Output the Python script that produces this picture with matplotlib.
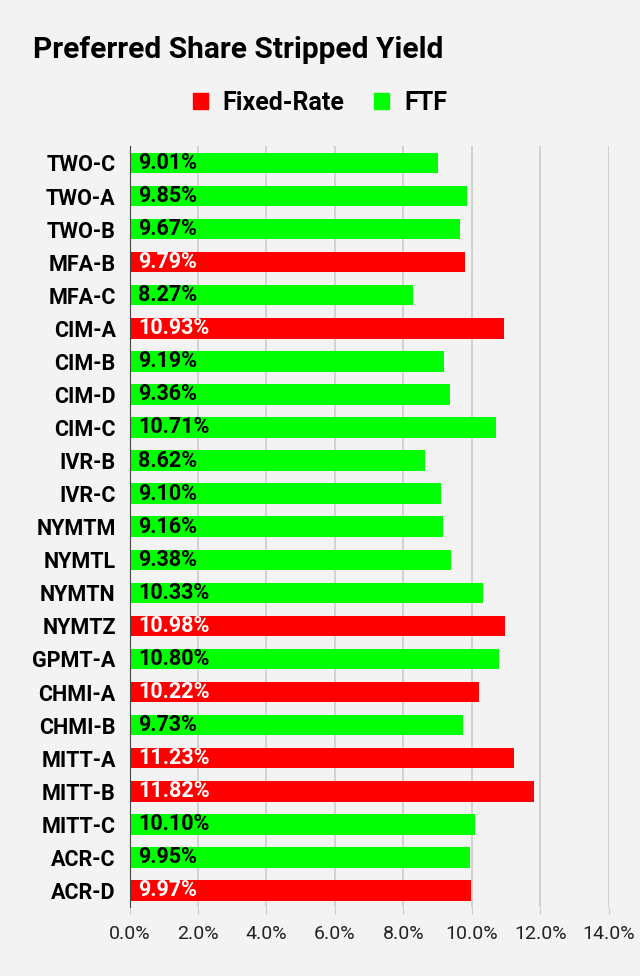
import matplotlib.pyplot as plt
from matplotlib.patches import Patch
from matplotlib.ticker import FuncFormatter

plt.rcParams['font.family'] = ['Roboto', 'DejaVu Sans']

# --- Data ---
tickers = ['TWO-C', 'TWO-A', 'TWO-B', 'MFA-B', 'MFA-C', 'CIM-A', 'CIM-B', 'CIM-D',
           'CIM-C', 'IVR-B', 'IVR-C', 'NYMTM', 'NYMTL', 'NYMTN', 'NYMTZ', 'GPMT-A',
           'CHMI-A', 'CHMI-B', 'MITT-A', 'MITT-B', 'MITT-C', 'ACR-C', 'ACR-D']
yields = [9.01, 9.85, 9.67, 9.79, 8.27, 10.93, 9.19, 9.36, 10.71, 8.62, 9.10, 9.16,
          9.38, 10.33, 10.98, 10.80, 10.22, 9.73, 11.23, 11.82, 10.10, 9.95, 9.97]
kinds = ['FTF', 'FTF', 'FTF', 'Fixed-Rate', 'FTF', 'Fixed-Rate', 'FTF', 'FTF',
         'FTF', 'FTF', 'FTF', 'FTF', 'FTF', 'FTF', 'Fixed-Rate', 'FTF',
         'Fixed-Rate', 'FTF', 'Fixed-Rate', 'Fixed-Rate', 'FTF', 'FTF', 'Fixed-Rate']
x_ticks = [0, 2, 4, 6, 8, 10, 12, 14]

COLORS = {'Fixed-Rate': '#ff0000', 'FTF': '#00ff00'}
TEXT_COLORS = {'Fixed-Rate': 'white', 'FTF': 'black'}
BG = '#f3f3f3'

fig = plt.figure(figsize=(6.4, 9.76), dpi=100, facecolor=BG)
ax = fig.add_axes([0.2025, 0.0707, 0.7485, 0.7793], facecolor=BG)

ypos = list(range(len(tickers)))
ax.barh(ypos, yields, height=0.62, color=[COLORS[k] for k in kinds], zorder=3)

# value labels inside the left end of each bar
for y, v, k in zip(ypos, yields, kinds):
    ax.text(0.25, y, f'{v:.2f}%', va='center', ha='left', fontsize=15.5,
            fontweight='bold', color=TEXT_COLORS[k], zorder=4)

ax.set_xlim(0, 14)
ax.set_ylim(len(tickers) - 0.5, -0.5)
ax.set_xticks(x_ticks)
ax.xaxis.set_major_formatter(FuncFormatter(lambda v, p: f'{v:.1f}%'))
ax.set_yticks(ypos)
ax.set_yticklabels(tickers, fontsize=15.5, fontweight='bold')
ax.tick_params(axis='y', length=0, pad=10)
ax.tick_params(axis='x', length=5, color='#cccccc', labelsize=14, pad=8, labelcolor='#222222')
ax.grid(axis='x', color='#cccccc', linewidth=1.2, zorder=0)
for s in ['top', 'right', 'bottom']:
    ax.spines[s].set_visible(False)
ax.spines['left'].set_color('#444444')
ax.spines['left'].set_zorder(5)

fig.text(33 / 640, 1 - 50 / 976, 'Preferred Share Stripped Yield', fontsize=21.5,
         fontweight='bold', va='center', ha='left')

handles = [Patch(color=COLORS['Fixed-Rate'], label='Fixed-Rate'),
           Patch(color=COLORS['FTF'], label='FTF')]
fig.legend(handles=handles, loc='center', bbox_to_anchor=(0.5, 1 - 103 / 976), ncol=2,
           frameon=False, prop={'size': 18, 'weight': 'bold'}, handlelength=0.6,
           handleheight=0.6, handletextpad=0.6, columnspacing=1.2)

fig.savefig('out.png', dpi=100, facecolor=BG)
